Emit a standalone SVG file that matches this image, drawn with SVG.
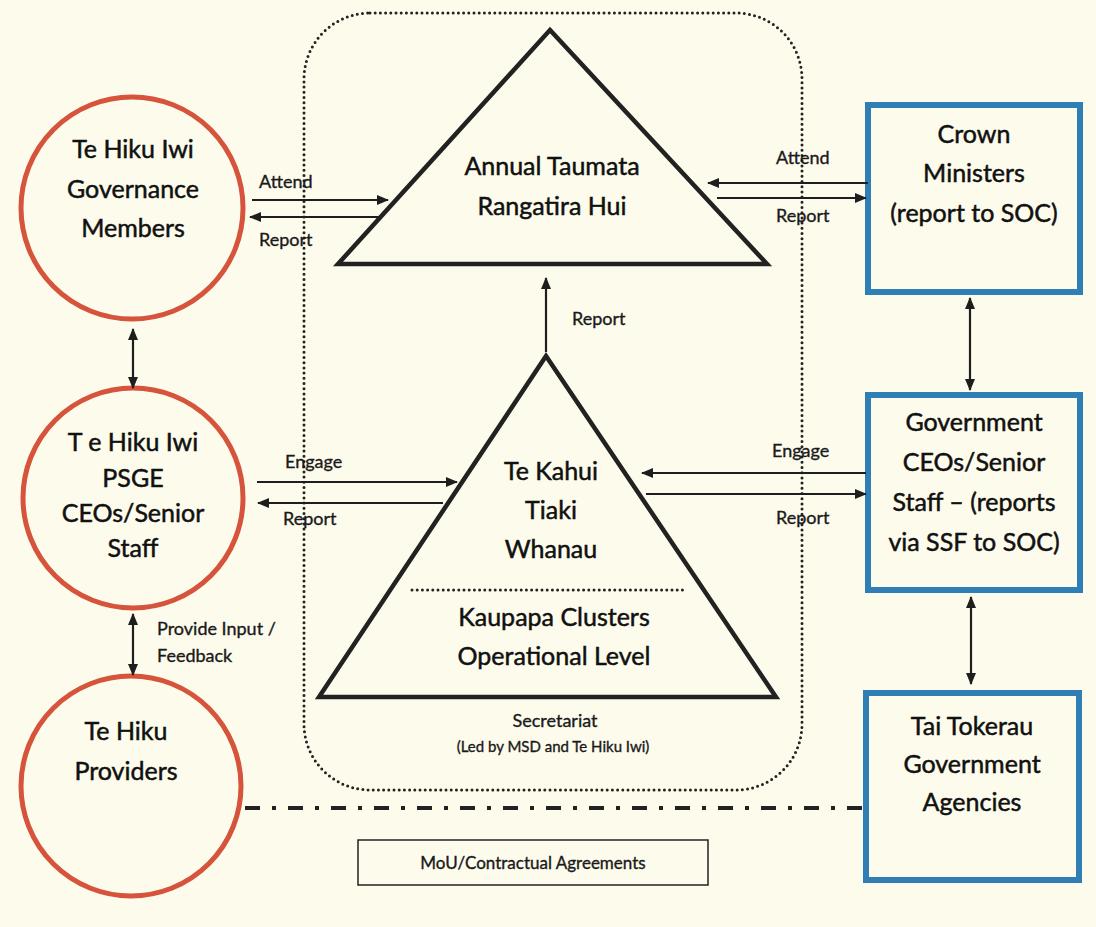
<svg xmlns="http://www.w3.org/2000/svg" width="1096" height="927" viewBox="0 0 1096 927">
<defs>
<marker id="ah" markerWidth="12" markerHeight="10" refX="11" refY="5" orient="auto-start-reverse" markerUnits="userSpaceOnUse">
<path d="M0,0 L12,5 L0,10 z" fill="#1e1e1e"/>
</marker>
<style>
.bg{fill:#fdfcec}
.circ{fill:none;stroke:#d6533c;stroke-width:5}
.box{fill:none;stroke:#2f7fb6;stroke-width:6}
.tri{fill:none;stroke:#222;stroke-width:4.5;stroke-linejoin:miter}
.dots{fill:none;stroke:#222;stroke-width:3;stroke-linecap:round;stroke-dasharray:0 5.2}
.arr{fill:none;stroke:#1e1e1e;stroke-width:2.2}
.dd{fill:none;stroke:#222;stroke-width:4;stroke-dasharray:15 12 4 12}
.nt{font-family:Lato,"Liberation Sans",sans-serif;font-size:25px;fill:#111;stroke:#111;stroke-width:0.5;text-anchor:middle}
.lb{font-family:Lato,"Liberation Sans",sans-serif;font-size:18px;fill:#1a1a1a;stroke:#1a1a1a;stroke-width:0.35}
.sm{font-family:Lato,"Liberation Sans",sans-serif;fill:#1a1a1a;stroke:#1a1a1a;stroke-width:0.35;text-anchor:middle}
</style>
</defs>
<rect class="bg" x="0" y="0" width="1096" height="927"/>

<g id="secretariat-frame">
<rect class="dots" x="304" y="13" width="498" height="777" rx="66" ry="66"/>
<text class="sm" x="555" y="727" font-size="18">Secretariat</text>
<text class="sm" x="553" y="752" font-size="15">(Led by MSD and Te Hiku Iwi)</text>
</g>

<g id="taumata">
<path class="tri" d="M550,30 L767,264 L338,264 Z"/>
<text class="nt" x="552" y="175">Annual Taumata</text>
<text class="nt" x="552" y="215">Rangatira Hui</text>
</g>

<g id="kahui">
<path class="tri" d="M546,356 L776,697 L319,697 Z"/>
<line class="dots" x1="412" y1="590" x2="686" y2="590"/>
<text class="nt" x="551" y="480">Te Kahui</text>
<text class="nt" x="551" y="519">Tiaki</text>
<text class="nt" x="551" y="558">Whanau</text>
<text class="nt" x="554" y="626">Kaupapa Clusters</text>
<text class="nt" x="554" y="665">Operational Level</text>
</g>

<g id="governance">
<circle class="circ" cx="132" cy="208" r="111"/>
<text class="nt" x="133" y="158">Te Hiku Iwi</text>
<text class="nt" x="133" y="198">Governance</text>
<text class="nt" x="133" y="237">Members</text>
</g>

<g id="psge">
<circle class="circ" cx="133" cy="498" r="110"/>
<text class="nt" x="133" y="451">T e Hiku Iwi</text>
<text class="nt" x="133" y="487">PSGE</text>
<text class="nt" x="133" y="522">CEOs/Senior</text>
<text class="nt" x="133" y="557">Staff</text>
</g>

<g id="providers">
<circle class="circ" cx="131" cy="786" r="110"/>
<text class="nt" x="126" y="740">Te Hiku</text>
<text class="nt" x="126" y="780">Providers</text>
</g>

<g id="crown">
<rect class="box" x="868" y="105" width="212" height="187"/>
<text class="nt" x="974" y="143">Crown</text>
<text class="nt" x="974" y="182">Ministers</text>
<text class="nt" x="974" y="222">(report to SOC)</text>
</g>

<g id="govt-ceos">
<rect class="box" x="868" y="395" width="212" height="195"/>
<text class="nt" x="974" y="431">Government</text>
<text class="nt" x="974" y="471">CEOs/Senior</text>
<text class="nt" x="974" y="511">Staff – (reports</text>
<text class="nt" x="974" y="551">via SSF to SOC)</text>
</g>

<g id="tai-tokerau">
<rect class="box" x="866" y="693" width="213" height="187"/>
<text class="nt" x="972" y="735">Tai Tokerau</text>
<text class="nt" x="972" y="773">Government</text>
<text class="nt" x="972" y="811">Agencies</text>
</g>

<g id="mou">
<rect x="358" y="840" width="350" height="45" fill="none" stroke="#222" stroke-width="1.5"/>
<text class="sm" x="533" y="869" font-size="17">MoU/Contractual Agreements</text>
</g>

<g id="connectors">
<line class="arr" x1="252" y1="200" x2="388" y2="200" marker-end="url(#ah)"/>
<line class="arr" x1="380" y1="217" x2="250" y2="217" marker-end="url(#ah)"/>
<text class="lb" x="259" y="188">Attend</text>
<text class="lb" x="259" y="246">Report</text>

<line class="arr" x1="868" y1="183" x2="708" y2="183" marker-end="url(#ah)"/>
<line class="arr" x1="717" y1="198" x2="866" y2="198" marker-end="url(#ah)"/>
<text class="lb" x="776" y="164">Attend</text>
<text class="lb" x="776" y="222">Report</text>

<line class="arr" x1="257" y1="482" x2="457" y2="482" marker-end="url(#ah)"/>
<line class="arr" x1="443" y1="503" x2="258" y2="503" marker-end="url(#ah)"/>
<text class="lb" x="285" y="468">Engage</text>
<text class="lb" x="283" y="525">Report</text>

<line class="arr" x1="866" y1="473" x2="642" y2="473" marker-end="url(#ah)"/>
<line class="arr" x1="646" y1="494" x2="866" y2="494" marker-end="url(#ah)"/>
<text class="lb" x="772" y="457">Engage</text>
<text class="lb" x="776" y="524">Report</text>

<line class="arr" x1="546" y1="352" x2="546" y2="278" marker-end="url(#ah)"/>
<text class="lb" x="572" y="325">Report</text>

<line class="arr" x1="133" y1="329" x2="133" y2="388" marker-start="url(#ah)" marker-end="url(#ah)"/>
<line class="arr" x1="133" y1="614" x2="133" y2="675" marker-start="url(#ah)" marker-end="url(#ah)"/>
<text class="lb" x="157" y="635">Provide Input /</text>
<text class="lb" x="157" y="662">Feedback</text>

<line class="arr" x1="970" y1="298" x2="970" y2="390" marker-start="url(#ah)" marker-end="url(#ah)"/>
<line class="arr" x1="971" y1="597" x2="971" y2="684" marker-start="url(#ah)" marker-end="url(#ah)"/>

<line class="dd" x1="245" y1="808" x2="862" y2="808"/>
</g>
</svg>
